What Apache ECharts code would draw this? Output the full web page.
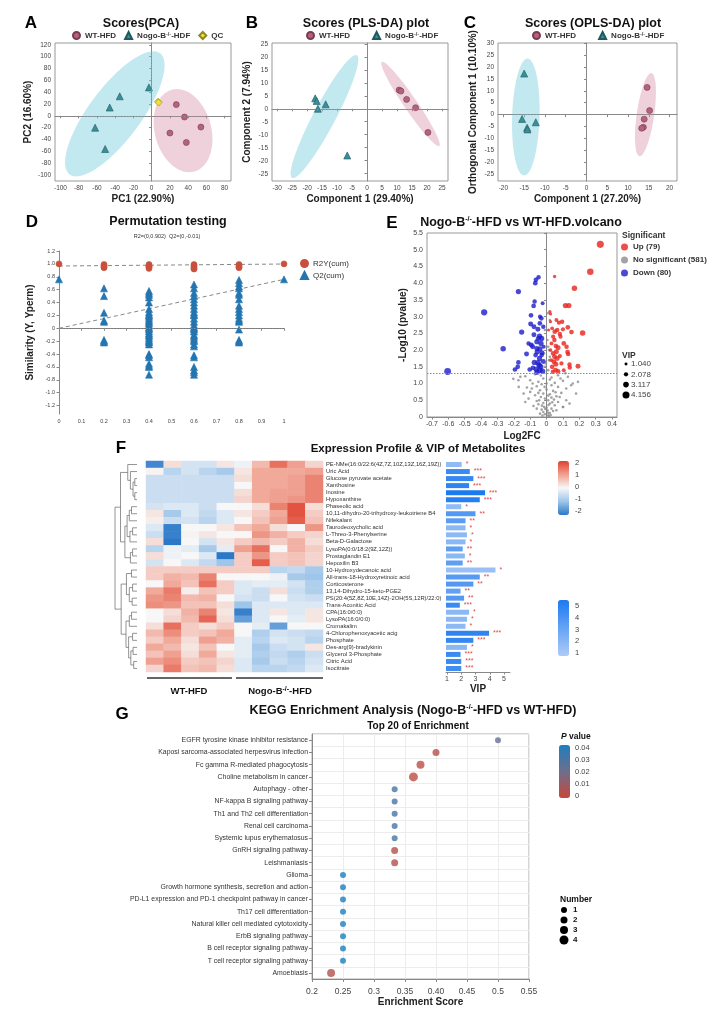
<!DOCTYPE html>
<html lang="en">
<head>
<meta charset="UTF-8">
<title>Metabolomics figure</title>
<style>
  html, body { margin: 0; padding: 0; background: #fff; }
  #main { width: 724px; height: 1016px; }
</style>
</head>
<body>
<div id="main"></div>
<script src="https://cdn.jsdelivr.net/npm/echarts@6/dist/echarts.min.js"></script>
<script>
var FONT = 'Liberation Sans, Arial, sans-serif';

// ---------- A: PCA scores ----------
var pcaWT = [[27, 19], [36, -2], [54, -19], [20, -29], [38, -45]];
var pcaKO = [[-3, 48], [-35, 33], [-46, 14], [-62, -20], [-51, -56]];
var pcaQC = [[7, 24], [7.6, 22.5]];
// ellipse: centre x, centre y, axis1 dx, dy, axis2 dx, dy
var pcaEllKO = [-40.4, 3.4, 49.5, 102.4, 23, -26];
var pcaEllWT = [34.4, -25, 8.9, -70, 31, 5];
var pcaTicksX = [-100, -80, -60, -40, -20, 0, 20, 40, 60, 80];
var pcaTicksY = [-100, -80, -60, -40, -20, 0, 20, 40, 60, 80, 100, 120];

// ---------- B: PLS-DA ----------
var plsWT = [[10.7, 7.2], [11.3, 6.8], [13.2, 3.6], [16.2, 0.4], [20.3, -9.1]];
var plsKO = [[-17.3, 4.0], [-16.8, 3.0], [-16.4, 0], [-13.8, 1.7], [-6.6, -18]];
var plsEllKO = [-14.2, -3, 10.8, 23.6, 3.3, -2.0];
var plsEllWT = [14.5, 1.85, -9.6, 16.2, 1.8, 1.45];
var plsTicksX = [-30, -25, -20, -15, -10, -5, 0, 5, 10, 15, 20, 25];
var plsTicksY = [-25, -20, -15, -10, -5, 0, 5, 10, 15, 20, 25];

// ---------- C: OPLS-DA ----------
var oplsWT = [[14.6, 11.4], [15.2, 1.7], [13.9, -1.9], [13.7, -5.3], [13.3, -5.7]];
var oplsKO = [[-15, 17.2], [-15.5, -1.8], [-14.3, -5.5], [-14.2, -6.2], [-12.2, -3.2]];
var oplsEllKO = [-14.6, -1, 0.4, 24.5, 3.3, 0];
var oplsEllWT = [14.2, 0, 1.4, 17.4, 2.1, -0.2];
var oplsTicksX = [-20, -15, -10, -5, 0, 5, 10, 15, 20];
var oplsTicksY = [-25, -20, -15, -10, -5, 0, 5, 10, 15, 20, 25, 30];

// ---------- D: permutation test ----------
var r2Perm = [[0, 1.0], [0.2, 0.99], [0.2, 0.97], [0.2, 0.95], [0.2, 0.94],
  [0.4, 0.99], [0.4, 0.97], [0.4, 0.96], [0.4, 0.95], [0.4, 0.93],
  [0.6, 0.99], [0.6, 0.97], [0.6, 0.95], [0.6, 0.93], [0.6, 0.92],
  [0.8, 0.99], [0.8, 0.97], [0.8, 0.95], [0.8, 0.94], [1, 1.0]];
var q2At0 = [0.76];
var q2At02 = [0.62, 0.5, 0.24, 0.12, 0.1, -0.18, -0.2, -0.22];
var q2At04 = [0.58, 0.55, 0.52, 0.48, 0.4, 0.3, 0.25, 0.22, 0.2, 0.18, 0.15, 0.12, 0.1, 0.08, 0.05, 0.02, 0,
  -0.02, -0.05, -0.08, -0.1, -0.12, -0.15, -0.18, -0.2, -0.22, -0.25, -0.4, -0.42, -0.45, -0.55, -0.58, -0.6, -0.72];
var q2At06 = [0.68, 0.62, 0.55, 0.5, 0.45, 0.4, 0.35, 0.3, 0.25, 0.22, 0.2, 0.15, 0.1, 0.05, 0.02, 0,
  -0.02, -0.05, -0.1, -0.12, -0.15, -0.18, -0.2, -0.25, -0.28, -0.42, -0.45, -0.6, -0.65, -0.68, -0.72];
var q2At08 = [0.75, 0.7, 0.65, 0.62, 0.55, 0.52, 0.45, 0.35, 0.3, 0.25, 0.2, 0.15, 0.12, 0.1, -0.02, -0.18, -0.2, -0.22];
var q2At1 = [0.76];
var r2Fit = [[0, 0.967], [1, 0.998]];
var q2Fit = [[0, 0.0], [1, 0.76]];
var permTicksY = [-1.2, -1, -0.8, -0.6, -0.4, -0.2, 0, 0.2, 0.4, 0.6, 0.8, 1, 1.2];

// ---------- E: volcano ----------
var upPts = [[0.328, 5.16, 4.2], [0.267, 4.34, 3.8], [0.049, 4.2, 1.3], [0.17, 3.85, 3.0], [0.115, 3.33, 2.8],
  [0.136, 3.33, 2.8], [0.02, 3.15, 1.2], [0.024, 3.08, 1.3], [0.095, 2.85, 2.2], [0.075, 2.82, 2.0],
  [0.13, 2.68, 2.4], [0.024, 2.85, 1.2], [0.034, 2.65, 1.6], [0.065, 2.6, 2.2], [0.081, 2.48, 2.2],
  [0.22, 2.51, 3.0], [0.152, 2.54, 2.4], [0.04, 2.4, 2.0], [0.03, 2.2, 1.8], [0.085, 2.4, 2.0],
  [0.105, 2.2, 2.4], [0.122, 2.1, 2.2], [0.057, 2.12, 2.4], [0.071, 2.07, 2.6], [0.128, 1.94, 2.4],
  [0.132, 1.88, 2.2], [0.04, 1.9, 2.4], [0.049, 1.8, 2.6], [0.065, 1.75, 2.6], [0.045, 1.65, 2.6],
  [0.057, 1.58, 2.6], [0.081, 1.82, 2.0], [0.091, 1.6, 2.0], [0.14, 1.57, 2.2], [0.142, 1.48, 2.2],
  [0.192, 1.52, 2.6], [0.034, 1.5, 2.4], [0.055, 1.4, 2.6], [0.071, 1.37, 2.2], [0.024, 2.0, 1.6],
  [0.028, 1.7, 1.8], [0.105, 1.4, 1.8], [0.048, 2.3, 2.2], [0.06, 2.9, 1.8], [0.038, 1.35, 2.0],
  [0.06, 1.95, 2.6], [0.012, 2.6, 1.2], [0.1, 2.62, 2.0], [0.05, 2.55, 2.4]];
var downPts = [[-0.604, 1.36, 4.0], [-0.381, 3.13, 3.6], [-0.265, 2.04, 3.0], [-0.152, 2.54, 2.8], [-0.172, 3.75, 2.8],
  [-0.049, 4.18, 2.2], [-0.065, 4.1, 2.4], [-0.069, 4.0, 2.4], [-0.073, 3.45, 2.2], [-0.079, 3.32, 2.4],
  [-0.024, 3.4, 1.8], [-0.095, 3.04, 2.4], [-0.032, 2.95, 2.4], [-0.041, 2.8, 2.4], [-0.02, 2.7, 2.2],
  [-0.097, 2.78, 2.6], [-0.077, 2.7, 2.6], [-0.053, 2.62, 2.6], [-0.077, 2.46, 2.6], [-0.043, 2.42, 2.8],
  [-0.03, 2.35, 2.8], [-0.059, 2.25, 2.8], [-0.034, 2.2, 2.8], [-0.093, 2.15, 2.6], [-0.085, 2.1, 2.6],
  [-0.041, 2.04, 2.8], [-0.057, 1.95, 2.8], [-0.028, 1.92, 2.6], [-0.122, 1.88, 2.6], [-0.067, 1.85, 2.4],
  [-0.043, 1.75, 2.8], [-0.02, 1.66, 2.6], [-0.172, 1.63, 2.4], [-0.176, 1.5, 2.4], [-0.193, 1.42, 2.4],
  [-0.075, 1.63, 2.8], [-0.053, 1.62, 3.0], [-0.036, 1.5, 3.0], [-0.063, 1.43, 2.8], [-0.041, 1.4, 3.0],
  [-0.024, 1.37, 2.8], [-0.059, 1.34, 2.8], [-0.103, 1.42, 2.4], [-0.083, 1.47, 2.4], [-0.045, 1.55, 3.0],
  [-0.03, 1.85, 2.4], [-0.06, 2.05, 2.6], [-0.05, 2.35, 2.6], [-0.11, 2.2, 2.2], [-0.018, 2.1, 2.0],
  [-0.04, 3.0, 2.0]];
var nsPts = [[0.01, 0.05], [-0.01, 0.08], [0.02, 0.12], [-0.02, 0.15], [0.005, 0.2], [-0.03, 0.22], [0.03, 0.25],
  [0, 0.28], [-0.015, 0.3], [0.04, 0.18], [-0.04, 0.1], [0.015, 0.02], [0.025, 0.06], [-0.025, 0.04],
  [0.008, 0.13], [-0.008, 0.24], [0.05, 0.35], [-0.05, 0.38], [0.02, 0.4], [-0.02, 0.42], [0.07, 0.45],
  [-0.06, 0.48], [0.01, 0.5], [-0.01, 0.55], [0.03, 0.58], [-0.035, 0.6], [0.1, 0.3], [-0.08, 0.33],
  [0.045, 0.52], [-0.045, 0.5], [0.012, 0.36], [-0.028, 0.34], [0.035, 0.44], [0.06, 0.62], [-0.07, 0.65],
  [0.02, 0.68], [-0.02, 0.7], [0.09, 0.72], [-0.1, 0.75], [0.04, 0.78], [-0.04, 0.8], [0.0, 0.82],
  [0.12, 0.85], [-0.12, 0.88], [0.07, 0.9], [-0.06, 0.92], [0.03, 0.95], [-0.03, 0.98], [0.15, 0.95],
  [-0.14, 0.7], [0.08, 0.6], [-0.09, 0.85], [0.01, 0.64], [-0.012, 0.9], [0.055, 0.74], [-0.05, 0.72],
  [0.05, 1.02], [-0.05, 1.05], [0.1, 1.08], [-0.1, 1.1], [0.02, 1.12], [-0.02, 1.15], [0.13, 1.2],
  [-0.13, 1.22], [0.07, 1.25], [-0.07, 1.28], [-0.203, 1.14], [-0.172, 1.1], [0.192, 1.05], [0.115, 1.31],
  [0.16, 1.0], [-0.16, 1.2], [0.0, 1.0], [0.03, 1.18], [-0.035, 1.24], [0.085, 1.15], [-0.085, 1.0],
  [0.01, 1.4], [-0.01, 1.5], [0.015, 1.7], [-0.015, 1.9], [0.01, 2.1], [0.005, 2.3], [-0.01, 2.6],
  [0.02, 2.9], [0.008, 3.1], [-0.005, 1.6], [0.02, 1.8], [0.015, 2.0], [0.101, 0.3], [0.06, 0.2],
  [-0.06, 0.25], [0.12, 0.5], [-0.11, 0.55], [0.18, 0.7], [-0.17, 0.9], [0.14, 0.4], [-0.13, 0.45]];
var volTicksX = [-0.7, -0.6, -0.5, -0.4, -0.3, -0.2, -0.1, 0, 0.1, 0.2, 0.3, 0.4];
var vipLegend = [1.040, 2.078, 3.117, 4.156];

// ---------- F: heatmap + VIP ----------
var metabolites = ['PE-NMe(16:0/22:6(4Z,7Z,10Z,13Z,16Z,19Z))', 'Uric Acid', 'Glucose pyruvate acetate',
  'Xanthosine', 'Inosine', 'Hypoxanthine', 'Phaseolic acid', '10,11-dihydro-20-trihydroxy-leukotriene B4',
  'Nifekalant', 'Taurodeoxycholic acid', 'L-Threo-3-Phenylserine', 'Beta-D-Galactose',
  'LysoPA(0:0/18:2(9Z,12Z))', 'Prostaglandin E1', 'Hepoxilin B3', '10-Hydroxydecanoic acid',
  'All-trans-18-Hydroxyretinoic acid', 'Corticosterone', '13,14-Dihydro-15-keto-PGE2',
  'PS(20:4(5Z,8Z,10E,14Z)-2OH(5S,12R)/22:0)', 'Trans-Aconitic Acid', 'CPA(16:0/0:0)', 'LysoPA(16:0/0:0)',
  'Cromakalim', '4-Chlorophenoxyacetic acig', 'Phosphate', 'Des-arg(9)-bradykinin', 'Glycerol 3-Phosphate',
  'Citric Acid', 'Isocitrate'];
var samples = ['WT1', 'WT2', 'WT3', 'WT4', 'WT5', 'KO1', 'KO2', 'KO3', 'KO4', 'KO5'];
var heatRows = [
  [-1.8, 0.3, -0.4, -0.4, 0.2, -0.1, 0.7, 1.5, 1.0, 0.4],
  [0.05, -0.7, -0.4, -0.7, -0.9, 0.2, 0.9, 0.9, 0.9, 1.0],
  [-0.5, -0.5, -0.5, -0.5, -0.5, 0.3, 0.9, 0.9, 1.0, 1.3],
  [-0.5, -0.5, -0.5, -0.5, -0.5, 0.0, 0.9, 0.9, 1.0, 1.3],
  [-0.5, -0.5, -0.5, -0.5, -0.5, 0.3, 0.9, 1.0, 1.0, 1.3],
  [-0.5, -0.5, -0.5, -0.5, -0.5, 0.4, 0.9, 1.0, 1.1, 1.3],
  [-0.4, -0.3, -0.3, -0.5, 0.0, 0.0, 0.3, 1.3, 1.8, 0.3],
  [0.2, -0.9, -0.3, -0.6, -0.3, 0.2, 0.5, 0.9, 1.8, 0.5],
  [0.1, -0.5, -0.4, -0.7, -0.3, 0.0, 0.6, 1.0, 1.7, 0.6],
  [-0.3, -1.9, 0.0, 0.0, 0.2, 0.6, 0.9, 0.3, 0.0, 1.1],
  [-0.5, -1.9, 0.05, 0.2, 0.0, 0.0, 1.1, 0.8, 0.5, 0.4],
  [0.3, -2.0, 0.0, -0.4, 0.2, 0.5, 0.7, 0.5, 0.8, 0.3],
  [-0.7, -0.1, -0.2, -0.9, -0.2, 1.0, 1.5, 0.0, 0.8, 0.5],
  [0.3, -0.1, 0.0, -0.3, -2.0, 0.5, 1.1, 0.5, 0.6, 0.4],
  [-0.4, 0.0, -0.3, -0.6, -1.0, 0.5, 1.7, 0.5, 0.6, 0.4],
  [0.5, 0.5, 0.5, 0.5, 0.5, 0.5, 0.5, -0.7, -0.6, -0.9],
  [0.5, 0.8, 0.7, 1.3, 0.0, 0.0, 0.0, -0.1, -0.9, -1.0],
  [0.0, 0.9, 0.6, 1.5, 0.5, -0.3, -0.2, -0.2, -0.4, -0.8],
  [0.9, 1.4, 0.1, 0.6, 0.5, -0.3, -0.5, 0.3, -0.5, -0.8],
  [1.1, 1.3, 0.7, 0.8, 0.0, -0.4, -0.5, 0.0, -0.4, -0.5],
  [1.2, 1.1, 0.6, 0.6, 0.3, -1.0, -0.3, -0.3, -0.3, -0.3],
  [0.0, 0.3, 0.8, 1.3, 0.2, -1.9, -0.3, 0.2, -0.3, 0.2],
  [0.0, 0.4, 0.7, 1.6, 0.3, -1.5, -0.3, 0.0, -0.2, 0.2],
  [0.3, 1.5, 0.5, 0.3, 0.5, 0.0, -0.2, -1.5, 0.0, 0.0],
  [0.7, 1.2, 0.5, 0.6, 0.9, 0.0, -0.8, -0.4, -0.5, -0.6],
  [0.5, 0.9, 0.3, 1.0, 0.8, -0.2, -0.7, -0.3, -0.4, -0.7],
  [0.9, 0.7, 0.2, 0.6, 0.0, -0.2, -0.9, -0.5, -0.4, 0.2],
  [0.6, 1.0, 0.3, 0.9, 0.2, -0.2, -0.8, -0.6, -0.8, -0.5],
  [1.0, 1.2, 0.5, 0.6, 0.4, -0.3, -0.9, -0.5, -0.7, -0.4],
  [0.4, 1.4, 0.6, 0.7, 0.3, -0.3, -0.7, -0.7, -0.6, -0.3]];
var vipScores = [2.03, 2.6, 2.85, 2.55, 3.67, 3.3, 2.0, 3.0, 2.3, 2.3, 2.4, 2.3, 2.1, 2.25, 2.1,
  4.4, 3.3, 2.85, 1.95, 2.2, 1.9, 2.55, 2.4, 2.3, 3.95, 2.85, 2.4, 1.95, 2.0, 2.0];
var vipShade = [1.8, 4.2, 4.3, 4.5, 5.0, 4.7, 1.8, 3.5, 3.3, 2.0, 1.9, 2.0, 3.2, 2.0, 3.2,
  1.6, 3.4, 3.5, 3.1, 3.5, 4.2, 2.0, 2.0, 1.9, 4.5, 4.3, 2.0, 4.2, 4.2, 4.0];
var vipStars = ['*', '***', '***', '***', '***', '***', '*', '**', '**', '*', '*', '*', '**', '*', '**',
  '*', '**', '**', '**', '**', '***', '*', '*', '*', '***', '***', '*', '***', '***', '***'];
// row clustering: [left, right, height]
var rowTree = [
  [[0, [1, [[2, 3, 0.1], [4, 5, 0.1], 0.18], 0.3], 0.42],
   [[[[6, 7, 0.25], 8, 0.35], [[9, 10, 0.2], 11, 0.32], 0.45], [[12, 13, 0.2], 14, 0.3], 0.55], 0.75],
  [[[15, 16, 0.25], [[17, 18, 0.2], [19, 20, 0.22], 0.35], 0.48],
   [[[21, 22, 0.25], 23, 0.35], [[24, 25, 0.2], [[26, 27, 0.18], [28, 29, 0.15], 0.28], 0.38], 0.5], 0.72],
  1.0];
var heatTicks = [2, 1, 0, -1, -2];
var vipTicks = [5, 4, 3, 2, 1];

// ---------- G: KEGG enrichment ----------
var pathways = ['EGFR tyrosine kinase inhibitor resistance', 'Kaposi sarcoma-associated herpesvirus infection',
  'Fc gamma R-mediated phagocytosis', 'Choline metabolism in cancer', 'Autophagy - other',
  'NF-kappa B signaling pathway', 'Th1 and Th2 cell differentiation', 'Renal cell carcinoma',
  'Systemic lupus erythematosus', 'GnRH signaling pathway', 'Leishmaniasis', 'Glioma',
  'Growth hormone synthesis, secretion and action', 'PD-L1 expression and PD-1 checkpoint pathway in cancer',
  'Th17 cell differentiation', 'Natural killer cell mediated cytotoxicity', 'ErbB signaling pathway',
  'B cell receptor signaling pathway', 'T cell receptor signaling pathway', 'Amoebiasis'];
var enrichScore = [0.5, 0.4, 0.375, 0.3636, 0.3333, 0.3333, 0.3333, 0.3333, 0.3333, 0.3333, 0.3333,
  0.25, 0.25, 0.25, 0.25, 0.25, 0.25, 0.25, 0.25, 0.2308];
var pValue = [0.022, 0.004, 0.003, 0.002, 0.03, 0.03, 0.03, 0.03, 0.03, 0.004, 0.004,
  0.04, 0.04, 0.04, 0.04, 0.04, 0.04, 0.04, 0.04, 0.005];
var hitNumber = [1, 2, 3, 4, 1, 1, 1, 1, 1, 2, 2, 1, 1, 1, 1, 1, 1, 1, 1, 3];
var hitLegend = [1, 2, 3, 4];
var pTicks = ['0.04', '0.03', '0.02', '0.01', '0'];
var enrichLabels = {20: '0.2', 25: '0.25', 30: '0.3', 35: '0.35', 40: '0.40', 45: '0.45', 50: '0.5', 55: '0.55'};

// ---------- helpers ----------
var WT_COL = '#b4637e', KO_COL = '#3b8e98';
var supRich = { s: { fontSize: 7, verticalAlign: 'top', fontWeight: 'bold', fontFamily: FONT, color: '#111' } };

function vipSize(v) { return 1.6 + 1.3 * v; }
function hitSize(n) { return 5 + n; }
function fmt1(v) { return Math.abs(v) < 1e-9 ? '0' : v.toFixed(1); }

function ellipseSeries(gi, p, color) {
  return {
    type: 'custom', xAxisIndex: gi, yAxisIndex: gi, z: 1, silent: true, data: [p],
    renderItem: function (params, api) {
      var pts = [];
      for (var i = 0; i <= 80; i++) {
        var t = i / 80 * Math.PI * 2;
        pts.push(api.coord([api.value(0) + api.value(2) * Math.cos(t) + api.value(4) * Math.sin(t),
                            api.value(1) + api.value(3) * Math.cos(t) + api.value(5) * Math.sin(t)]));
      }
      return { type: 'polygon', shape: { points: pts }, style: { fill: color } };
    }
  };
}

function zeroLines(xs, ys) {
  var d = [];
  xs.forEach(function (v) { d.push({ xAxis: v }); });
  ys.forEach(function (v) { d.push({ yAxis: v }); });
  return { silent: true, symbol: 'none', label: { show: false },
    lineStyle: { color: '#8a8a8a', type: [1.5, 1.5], width: 1 }, data: d };
}

function valAxis(gi, min, max, ticks, name, gap, fmt, fs) {
  return {
    gridIndex: gi, type: 'value', min: min, max: max,
    axisLine: { show: true, lineStyle: { color: '#888', width: 1 } },
    axisTick: { show: true, length: 2.5, customValues: ticks, lineStyle: { color: '#888' } },
    axisLabel: { customValues: ticks, fontSize: fs || 6.5, color: '#444', margin: 4, fontFamily: FONT,
      formatter: fmt || function (v) { return String(v); } },
    splitLine: { show: false },
    name: name, nameLocation: 'middle', nameGap: gap,
    nameTextStyle: { fontSize: 10, fontWeight: 'bold', color: '#222', fontFamily: FONT }
  };
}

function scatter(gi, name, data, symbol, size, color, border) {
  return { type: 'scatter', name: name, xAxisIndex: gi, yAxisIndex: gi, data: data, symbol: symbol,
    symbolSize: size, z: 3, itemStyle: { color: color, borderColor: border, borderWidth: 0.6, opacity: 1 } };
}

// ---------- grids & axes ----------
var grids = [
  { left: 55, top: 43, width: 176, height: 138, show: true, borderColor: '#999' },   // A
  { left: 272, top: 43, width: 176, height: 138, show: true, borderColor: '#999' },  // B
  { left: 498, top: 43, width: 179, height: 138, show: true, borderColor: '#999' },  // C
  { left: 59, top: 251, width: 225, height: 163 },                                     // D
  { left: 427, top: 233, width: 190, height: 184, show: true, borderColor: '#999' }, // E
  { left: 115, top: 461, width: 22, height: 211 },                                     // dendrogram
  { left: 146, top: 461, width: 177, height: 211 },                                    // heatmap
  { left: 446, top: 461, width: 64, height: 211 },                                     // VIP bars
  { left: 312, top: 734, width: 217, height: 245, show: true, borderColor: '#aaa' }  // G
];
grids.forEach(function (g) { g.containLabel = false; g.outerBoundsMode = 'none'; });

var xAxes = [
  valAxis(0, -106, 87, pcaTicksX, 'PC1 (22.90%)', 13),
  valAxis(1, -31.7, 27, plsTicksX, 'Component 1 (29.40%)', 13),
  valAxis(2, -21.3, 21.8, oplsTicksX, 'Component 1 (27.20%)', 13),
  valAxis(3, 0, 1, [0, 0.1, 0.2, 0.3, 0.4, 0.5, 0.6, 0.7, 0.8, 0.9, 1], '', 0,
    function (v) { return (v === 0 || v === 1) ? String(v) : v.toFixed(1); }, 5.5),
  valAxis(4, -0.73, 0.43, volTicksX, 'Log2FC', 14, fmt1, 7),
  { gridIndex: 5, type: 'value', min: 0, max: 1, inverse: true, show: false },
  { gridIndex: 6, type: 'category', data: samples, show: false },
  valAxis(7, 0.93, 5.42, [1, 2, 3, 4, 5], 'VIP', 12, null, 7),
  { gridIndex: 8, type: 'value', min: 0.2, max: 0.55, interval: 0.05,
    axisLine: { show: true, lineStyle: { color: '#888' } },
    axisTick: { show: true, length: 3, lineStyle: { color: '#888' } },
    axisLabel: { fontSize: 8.5, color: '#444', fontFamily: FONT,
      formatter: function (v) { return enrichLabels[Math.round(v * 100)]; } },
    splitLine: { show: true, lineStyle: { color: '#ececec' } },
    name: 'Enrichment Score', nameLocation: 'middle', nameGap: 18,
    nameTextStyle: { fontSize: 10, fontWeight: 'bold', color: '#222', fontFamily: FONT } }
];
var yAxes = [
  valAxis(0, -110, 123, pcaTicksY, 'PC2 (16.60%)', 22),
  valAxis(1, -27.8, 25.3, plsTicksY, 'Component 2 (7.94%)', 20),
  valAxis(2, -27.8, 30, oplsTicksY, 'Orthogonal Component 1 (10.10%)', 20),
  valAxis(3, -1.33, 1.2, permTicksY, 'Similarity (Y, Yperm)', 24, fmt1, 5.5),
  valAxis(4, 0, 5.5, [0, 0.5, 1, 1.5, 2, 2.5, 3, 3.5, 4, 4.5, 5, 5.5], '-Log10 (pvalue)', 19, fmt1, 7),
  { gridIndex: 5, type: 'value', min: -0.5, max: 29.5, inverse: true, show: false },
  { gridIndex: 6, type: 'category', data: metabolites, inverse: true, position: 'right',
    axisLine: { show: false }, axisTick: { show: false },
    axisLabel: { fontSize: 5.8, color: '#333', margin: 3, interval: 0, fontFamily: FONT } },
  { gridIndex: 7, type: 'category', data: metabolites, inverse: true, show: false },
  { gridIndex: 8, type: 'category', data: pathways, inverse: true,
    axisLine: { show: true, lineStyle: { color: '#888' } },
    axisTick: { show: true, length: 3, alignWithLabel: true, lineStyle: { color: '#888' } },
    axisLabel: { fontSize: 6.9, color: '#333', interval: 0, margin: 4, fontFamily: FONT },
    splitLine: { show: true, lineStyle: { color: '#ececec' } } }
];
xAxes[3].axisLine.lineStyle.color = '#777';

// ---------- series ----------
var series = [];
// A
series.push(ellipseSeries(0, pcaEllKO, 'rgba(120,205,222,0.45)'));
series.push(ellipseSeries(0, pcaEllWT, 'rgba(214,140,166,0.40)'));
var sA = scatter(0, 'WT-HFD', pcaWT, 'circle', 6, WT_COL, '#7a3a52');
sA.markLine = zeroLines([0], [0]);
series.push(sA);
series.push(scatter(0, 'Nogo', pcaKO, 'triangle', 7, KO_COL, '#1f5a60'));
series.push(scatter(0, 'QC', pcaQC, 'diamond', 7, '#efe23c', '#8f8820'));
// B
series.push(ellipseSeries(1, plsEllKO, 'rgba(120,205,222,0.45)'));
series.push(ellipseSeries(1, plsEllWT, 'rgba(214,140,166,0.40)'));
var sB = scatter(1, 'WT-HFD', plsWT, 'circle', 6, WT_COL, '#7a3a52');
sB.markLine = zeroLines([0], [0]);
series.push(sB);
series.push(scatter(1, 'Nogo', plsKO, 'triangle', 7, KO_COL, '#1f5a60'));
// C
series.push(ellipseSeries(2, oplsEllKO, 'rgba(120,205,222,0.45)'));
series.push(ellipseSeries(2, oplsEllWT, 'rgba(214,140,166,0.40)'));
var sC = scatter(2, 'WT-HFD', oplsWT, 'circle', 6, WT_COL, '#7a3a52');
sC.markLine = zeroLines([0], [0]);
series.push(sC);
series.push(scatter(2, 'Nogo', oplsKO, 'triangle', 7, KO_COL, '#1f5a60'));
// D
var q2Pts = [];
[[0, q2At0], [0.2, q2At02], [0.4, q2At04], [0.6, q2At06], [0.8, q2At08], [1, q2At1]].forEach(function (g) {
  g[1].forEach(function (v) { q2Pts.push([g[0], v]); });
});
series.push({ type: 'line', xAxisIndex: 3, yAxisIndex: 3, data: r2Fit, symbol: 'none', silent: true, z: 2,
  lineStyle: { color: '#888', width: 1, type: [4, 3] } });
series.push({ type: 'line', xAxisIndex: 3, yAxisIndex: 3, data: q2Fit, symbol: 'none', silent: true, z: 2,
  lineStyle: { color: '#888', width: 1, type: [4, 3] } });
var sR2 = scatter(3, 'R2Y(cum)', r2Perm, 'circle', 6, '#c9503c', '#c9503c');
sR2.markLine = zeroLines([], [0]);
sR2.clip = false;
series.push(sR2);
var sQ2 = scatter(3, 'Q2(cum)', q2Pts, 'triangle', 7, '#2475b0', '#2475b0');
sQ2.clip = false;
series.push(sQ2);
// E
var volSize = function (d) { return vipSize(d[2]); };
var sNs = { type: 'scatter', name: 'No significant', xAxisIndex: 4, yAxisIndex: 4, z: 3,
  data: nsPts, symbolSize: 2.6, itemStyle: { color: '#8c8c8c' } };
sNs.markLine = zeroLines([0], [1.3]);
series.push(sNs);
series.push({ type: 'scatter', name: 'Up', xAxisIndex: 4, yAxisIndex: 4, z: 4, data: upPts,
  symbolSize: volSize, itemStyle: { color: '#e8221d' } });
series.push({ type: 'scatter', name: 'Down', xAxisIndex: 4, yAxisIndex: 4, z: 4, data: downPts,
  symbolSize: volSize, itemStyle: { color: '#1c1ccc' } });
// F: dendrogram
var dendroSegs = [];
(function walk(node) {
  if (typeof node === 'number') return { y: node, h: 0 };
  var a = walk(node[0]), b = walk(node[1]), h = node[2];
  dendroSegs.push([a.h, a.y, h, a.y], [b.h, b.y, h, b.y], [h, a.y, h, b.y]);
  return { y: (a.y + b.y) / 2, h: h };
})(rowTree);
series.push({ type: 'custom', xAxisIndex: 5, yAxisIndex: 5, silent: true, data: dendroSegs,
  renderItem: function (params, api) {
    var p1 = api.coord([api.value(0), api.value(1)]), p2 = api.coord([api.value(2), api.value(3)]);
    return { type: 'line', shape: { x1: p1[0], y1: p1[1], x2: p2[0], y2: p2[1] },
      style: { stroke: '#666', lineWidth: 0.7 } };
  } });
// F: heatmap
var heatData = [];
heatRows.forEach(function (row, r) { row.forEach(function (v, c) { heatData.push([c, r, v]); }); });
var heatIdx = series.length;
series.push({ type: 'heatmap', xAxisIndex: 6, yAxisIndex: 6, data: heatData, silent: true,
  emphasis: { disabled: true } });
// F: VIP bars
var vipIdx = series.length;
series.push({ type: 'bar', xAxisIndex: 7, yAxisIndex: 7, barWidth: 5, silent: true,
  data: vipScores.map(function (v, i) { return [v, i, vipShade[i]]; }),
  encode: { x: 0, y: 1 },
  label: { show: true, position: 'right', distance: 4, color: '#e04848', fontSize: 7, fontFamily: FONT,
    formatter: function (p) { return vipStars[p.dataIndex]; } } });
// G
var gIdx = series.length;
series.push({ type: 'scatter', xAxisIndex: 8, yAxisIndex: 8, z: 4,
  data: enrichScore.map(function (v, i) { return [v, i, pValue[i], hitNumber[i]]; }),
  encode: { x: 0, y: 1 },
  symbolSize: function (d) { return hitSize(d[3]); } });

// ---------- graphic annotations ----------
var graphic = [];
function txt(t, x, y, size, opts) {
  var st = { text: t, x: x, y: y, fontSize: size, fontFamily: FONT, fill: '#111',
    textAlign: 'left', textVerticalAlign: 'middle' };
  for (var k in opts) st[k] = opts[k];
  graphic.push({ type: 'text', silent: true, style: st });
}
[['A', 31, 23], ['B', 252, 23], ['C', 470, 23], ['D', 32, 222], ['E', 392, 223], ['F', 121, 448], ['G', 122, 714]]
  .forEach(function (l) { txt(l[0], l[1], l[2], 17, { fontWeight: 'bold', textAlign: 'center', fill: '#000' }); });
// heatmap group bars
graphic.push({ type: 'line', silent: true, shape: { x1: 147, y1: 678, x2: 232, y2: 678 }, style: { stroke: '#333', lineWidth: 1.5 } });
graphic.push({ type: 'line', silent: true, shape: { x1: 236, y1: 678, x2: 323, y2: 678 }, style: { stroke: '#333', lineWidth: 1.5 } });
txt('WT-HFD', 189, 691, 9.5, { fontWeight: 'bold', textAlign: 'center' });
txt('Nogo-B{s|-/-}-HFD', 280, 691, 9.5, { fontWeight: 'bold', textAlign: 'center', rich: supRich });
// colorbar ticks
heatTicks.forEach(function (v, i) { txt(String(v), 575, 463 + i * 12, 7.5, { fill: '#444' }); });
vipTicks.forEach(function (v, i) { txt(String(v), 575, 606 + i * 11.8, 7.5, { fill: '#444' }); });
pTicks.forEach(function (v, i) { txt(v, 575, 748 + i * 12, 7.5, { fill: '#444' }); });
txt('{i|P} value', 561, 737, 8.5, { fontWeight: 'bold',
  rich: { i: { fontStyle: 'italic', fontWeight: 'bold', fontSize: 8.5, fontFamily: FONT } } });
// number legend (G)
txt('Number', 560, 900, 8.5, { fontWeight: 'bold' });
hitLegend.forEach(function (n, i) {
  graphic.push({ type: 'circle', silent: true, shape: { cx: 564, cy: 910 + i * 10, r: hitSize(n) / 2 }, style: { fill: '#000' } });
  txt(String(n), 573, 910 + i * 10, 8, { fontWeight: 'bold' });
});
// volcano legend headings + VIP sizes
txt('Significant', 622, 236, 8.5, { fontWeight: 'bold', fill: '#333' });
txt('VIP', 622, 356, 8.5, { fontWeight: 'bold', fill: '#333' });
vipLegend.forEach(function (v, i) {
  graphic.push({ type: 'circle', silent: true, shape: { cx: 626, cy: 364 + i * 10.3, r: vipSize(v) / 2 }, style: { fill: '#000' } });
  txt(v.toFixed(3), 631, 364 + i * 10.3, 8, { fill: '#444' });
});

// ---------- titles ----------
function title(t, x, top, size, extra) {
  var o = { text: t, left: x, top: top, textAlign: 'center', padding: 0,
    textStyle: { fontSize: size, fontWeight: 'bold', color: '#111', fontFamily: FONT, rich: supRich } };
  if (extra) for (var k in extra) o.textStyle[k] = extra[k];
  return o;
}
var titles = [
  title('Scores(PCA)', 141, 17, 12.5),
  title('Scores (PLS-DA) plot', 366, 17, 12.5),
  title('Scores (OPLS-DA) plot', 593, 17, 12.5),
  title('Permutation testing', 168, 215, 12.5),
  title('R2=(0,0.902)  Q2=(0,-0.01)', 167, 233, 5.5, { fontWeight: 'normal', color: '#333' }),
  title('Nogo-B{s|-/-}-HFD vs WT-HFD.volcano', 521, 216, 12.5),
  title('Expression Profile & VIP of Metabolites', 418, 443, 11.5),
  title('KEGG Enrichment Analysis (Nogo-B{s|-/-}-HFD vs WT-HFD)', 413, 704, 12.5),
  title('Top 20 of Enrichment', 418, 721, 10)
];

// ---------- legends ----------
function legendFmt(n) { return n === 'Nogo' ? 'Nogo-B{s|-/-}-HDF' : n; }
var legTxt = { fontSize: 8, fontWeight: 'bold', color: '#333', fontFamily: FONT,
  rich: { s: { fontSize: 5.5, verticalAlign: 'top', fontWeight: 'bold', color: '#333', fontFamily: FONT } } };
var legends = [
  { left: 72, top: 31, data: ['WT-HFD', 'Nogo', 'QC'], itemGap: 8, itemWidth: 7, itemHeight: 7, padding: 0,
    formatter: legendFmt, textStyle: legTxt, selectedMode: false },
  { left: 306, top: 31, data: ['WT-HFD', 'Nogo'], itemGap: 22, itemWidth: 7, itemHeight: 7, padding: 0,
    formatter: legendFmt, textStyle: legTxt, selectedMode: false },
  { left: 532, top: 31, data: ['WT-HFD', 'Nogo'], itemGap: 22, itemWidth: 7, itemHeight: 7, padding: 0,
    formatter: legendFmt, textStyle: legTxt, selectedMode: false },
  { left: 300, top: 259, orient: 'vertical', data: ['R2Y(cum)', 'Q2(cum)'], itemGap: 3, itemWidth: 7, itemHeight: 7,
    padding: 0, selectedMode: false, textStyle: { fontSize: 8, color: '#333', fontFamily: FONT } },
  { left: 621, top: 243, orient: 'vertical', data: ['Up', 'No significant', 'Down'], itemGap: 5,
    itemWidth: 7, itemHeight: 7, padding: 0, selectedMode: false, icon: 'circle',
    formatter: function (n) { return n === 'Up' ? 'Up (79)' : n === 'Down' ? 'Down (80)' : 'No significant (581)'; },
    textStyle: { fontSize: 8, fontWeight: 'bold', color: '#333', fontFamily: FONT } }
];

// ---------- visual maps ----------
var visualMaps = [
  { type: 'continuous', seriesIndex: heatIdx, dimension: 2, min: -2, max: 2, show: true, calculable: false,
    left: 558, top: 461, itemWidth: 11, itemHeight: 54, text: null, showLabel: false, padding: 0,
    inRange: { color: ['#2b78c8', '#9ec5ea', '#f7f7f7', '#f0a090', '#e0402e'] } },
  { type: 'continuous', seriesIndex: vipIdx, dimension: 2, min: 1, max: 5, show: true, calculable: false,
    left: 558, top: 600, itemWidth: 11, itemHeight: 56, text: null, padding: 0,
    inRange: { color: ['#aecbf7', '#1c7af0'] } },
  { type: 'continuous', seriesIndex: gIdx, dimension: 2, min: 0, max: 0.04, show: true, calculable: false,
    left: 559, top: 745, itemWidth: 11, itemHeight: 53, text: null, padding: 0,
    inRange: { color: ['#c8473a', '#6e6e8c', '#1d7ebf'] } }
];

var chart = echarts.init(document.getElementById('main'), null, { renderer: 'canvas' });
chart.setOption({
  backgroundColor: '#fff',
  animation: false,
  textStyle: { fontFamily: FONT },
  title: titles,
  legend: legends,
  grid: grids,
  xAxis: xAxes,
  yAxis: yAxes,
  visualMap: visualMaps,
  graphic: graphic,
  series: series
});
</script>
</body>
</html>
